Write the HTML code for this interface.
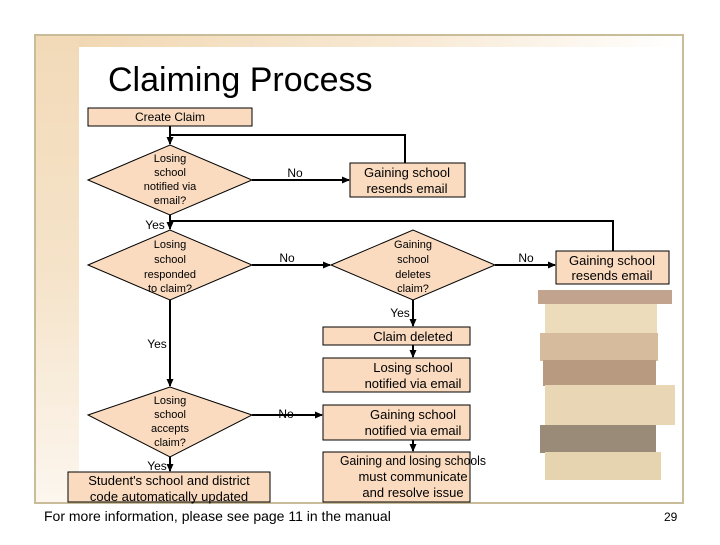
<!DOCTYPE html>
<html><head><style>
body{margin:0;width:720px;height:540px;background:#fff;overflow:hidden;font-family:"Liberation Sans",sans-serif}
</style></head><body>
<svg width="720" height="540" viewBox="0 0 720 540" xmlns="http://www.w3.org/2000/svg" font-family="Liberation Sans, sans-serif">
<defs>
<linearGradient id="top" x1="0" x2="1" y1="0" y2="0"><stop offset="0" stop-color="#f0d6b0"/><stop offset="0.6" stop-color="#f8ead6"/><stop offset="1" stop-color="#fff"/></linearGradient>
<linearGradient id="left" x1="0" x2="0" y1="0" y2="1"><stop offset="0" stop-color="#f2dab8"/><stop offset="0.5" stop-color="#f5e3c9"/><stop offset="1" stop-color="#fcf6ee"/></linearGradient>
<marker id="a" markerWidth="8" markerHeight="8" refX="7" refY="4" orient="auto" markerUnits="userSpaceOnUse"><path d="M0,0.5 L8,4 L0,7.5z" fill="#000"/></marker>
</defs>
<rect x="35" y="35" width="648" height="468" fill="#fff" stroke="#c9bc98" stroke-width="2"/>
<rect x="36" y="36" width="646" height="11" fill="url(#top)"/>
<rect x="36" y="36" width="43" height="466" fill="url(#left)"/>
<text x="108" y="91" font-size="34" fill="#000">Claiming Process</text>
<g>
<rect x="538" y="290" width="134" height="14" fill="#c2a48e"/>
<rect x="545" y="304" width="112" height="30" fill="#ecdcbc"/>
<rect x="540" y="333" width="118" height="28" fill="#d6bc9c"/>
<rect x="543" y="360" width="113" height="26" fill="#b89a80"/>
<rect x="545" y="385" width="130" height="40" fill="#e8d6b4"/>
<rect x="540" y="425" width="116" height="28" fill="#9a8a78"/>
<rect x="545" y="452" width="116" height="28" fill="#e6d4b0"/>
</g>
<g fill="#fadbc0" stroke="#000" stroke-width="1">
<rect x="88" y="108" width="164" height="18"/>
<polygon points="88,180 170,145 252,180 170,215"/>
<rect x="350" y="163" width="115" height="34"/>
<polygon points="88,265 170,230 252,265 170,300"/>
<polygon points="331,265 413,230 495,265 413,300"/>
<rect x="556" y="251" width="113" height="33"/>
<rect x="323" y="327" width="147" height="18"/>
<rect x="323" y="358" width="147" height="34"/>
<rect x="323" y="405" width="147" height="35"/>
<rect x="323" y="452" width="147" height="50"/>
<polygon points="88,415 170,387 252,415 170,457"/>
<rect x="68" y="472" width="202" height="30"/>
</g>
<g stroke="#000" stroke-width="2" fill="none">
<line x1="170" y1="126" x2="170" y2="144" marker-end="url(#a)"/>
<polyline points="170,135 405,135 405,163"/>
<line x1="252" y1="180" x2="349" y2="180" marker-end="url(#a)"/>
<line x1="170" y1="215" x2="170" y2="229" marker-end="url(#a)"/>
<polyline points="170,221 613,221 613,251"/>
<line x1="252" y1="265" x2="330" y2="265" marker-end="url(#a)"/>
<line x1="495" y1="265" x2="555" y2="265" marker-end="url(#a)"/>
<line x1="413" y1="300" x2="413" y2="326" marker-end="url(#a)"/>
<line x1="413" y1="345" x2="413" y2="357" marker-end="url(#a)"/>
<line x1="170" y1="300" x2="170" y2="386" marker-end="url(#a)"/>
<line x1="252" y1="415" x2="322" y2="415" marker-end="url(#a)"/>
<line x1="413" y1="440" x2="413" y2="451" marker-end="url(#a)"/>
<line x1="170" y1="457" x2="170" y2="471" marker-end="url(#a)"/>
</g>
<g font-size="12" fill="#000" text-anchor="middle">
<text x="170" y="121">Create Claim</text>
<text x="170" y="162" font-size="11">Losing</text>
<text x="170" y="176" font-size="11">school</text>
<text x="170" y="190" font-size="11">notified via</text>
<text x="170" y="204" font-size="11">email?</text>
<text x="295" y="177">No</text>
<text x="407" y="177" font-size="13">Gaining school</text>
<text x="407" y="193" font-size="13">resends email</text>
<text x="155" y="229">Yes</text>
<text x="170" y="248" font-size="11">Losing</text>
<text x="170" y="263" font-size="11">school</text>
<text x="170" y="278" font-size="11">responded</text>
<text x="170" y="292" font-size="11">to claim?</text>
<text x="287" y="262">No</text>
<text x="413" y="248" font-size="11">Gaining</text>
<text x="413" y="263" font-size="11">school</text>
<text x="413" y="278" font-size="11">deletes</text>
<text x="413" y="292" font-size="11">claim?</text>
<text x="526" y="262">No</text>
<text x="612" y="265" font-size="13">Gaining school</text>
<text x="612" y="280" font-size="13">resends email</text>
<text x="400" y="317">Yes</text>
<text x="413" y="341" font-size="13">Claim deleted</text>
<text x="157" y="348">Yes</text>
<text x="413" y="372" font-size="13">Losing school</text>
<text x="413" y="388" font-size="13">notified via email</text>
<text x="170" y="404" font-size="11">Losing</text>
<text x="170" y="418" font-size="11">school</text>
<text x="170" y="432" font-size="11">accepts</text>
<text x="170" y="446" font-size="11">claim?</text>
<text x="286" y="418">No</text>
<text x="413" y="419" font-size="13">Gaining school</text>
<text x="413" y="435" font-size="13">notified via email</text>
<text x="413" y="465" font-size="13" textLength="146" lengthAdjust="spacingAndGlyphs">Gaining and losing schools</text>
<text x="413" y="481" font-size="13">must communicate</text>
<text x="413" y="497" font-size="13">and resolve issue</text>
<text x="157" y="470">Yes</text>
<text x="169" y="485" font-size="13">Student's school and district</text>
<text x="169" y="501" font-size="13">code automatically updated</text>
</g>
<text x="44" y="521" font-size="14">For more information, please see page 11 in the manual</text>
<text x="664" y="521" font-size="12">29</text>
</svg>
</body></html>
